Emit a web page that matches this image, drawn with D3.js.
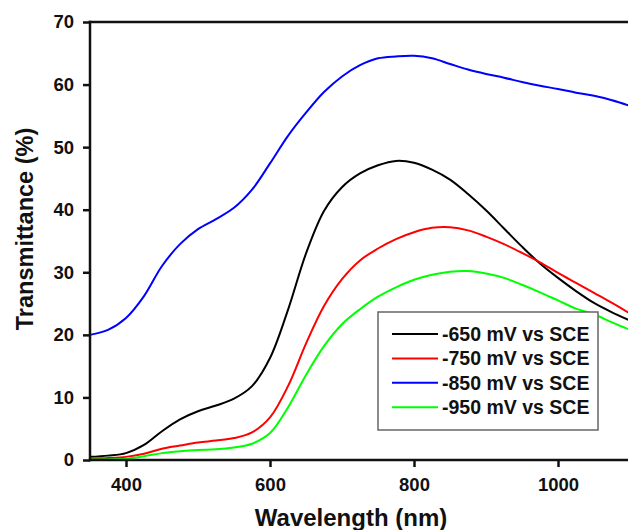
<!DOCTYPE html>
<html>
<head>
<meta charset="utf-8">
<script src="https://cdn.jsdelivr.net/npm/d3@7"></script>
<style>
  html, body { margin: 0; padding: 0; background: #fff; }
  svg { display: block; }
  text { font-family: "Liberation Sans", Arial, sans-serif; font-weight: bold; fill: #111; }
</style>
</head>
<body>
<svg id="chart" width="628" height="530"></svg>
<script>
// Wavelength grid (nm) shared by all spectra
const wavelengths = [350, 375, 400, 425, 450, 475, 500, 525, 550, 575, 600, 625, 650, 675, 700,
  725, 750, 775, 800, 825, 850, 875, 900, 925, 950, 975, 1000, 1025, 1050, 1075, 1100];

// Transmittance (%) for each deposition potential
const t650 = [0.5, 0.7, 1.1, 2.4, 4.6, 6.5, 7.8, 8.7, 9.8, 11.8, 16.3, 24.0, 33.0, 39.8, 43.6,
  45.8, 47.1, 47.8, 47.5, 46.4, 44.8, 42.5, 39.9, 37.0, 34.1, 31.4, 29.1, 27.0, 25.1, 23.6, 22.3];
const t750 = [0.2, 0.3, 0.5, 1.0, 1.8, 2.3, 2.8, 3.1, 3.5, 4.4, 6.8, 11.8, 18.6, 24.6, 28.9,
  31.9, 33.8, 35.3, 36.4, 37.1, 37.2, 36.7, 35.7, 34.5, 33.1, 31.6, 29.9, 28.3, 26.7, 25.1, 23.4];
const t850 = [20.0, 20.8, 22.7, 26.2, 31.0, 34.5, 36.9, 38.5, 40.3, 43.2, 47.4, 51.8, 55.5, 58.8, 61.3,
  63.1, 64.2, 64.5, 64.6, 64.2, 63.3, 62.4, 61.7, 61.1, 60.4, 59.8, 59.3, 58.7, 58.2, 57.5, 56.6];
const t950 = [0.1, 0.1, 0.2, 0.6, 1.1, 1.4, 1.6, 1.7, 2.0, 2.6, 4.3, 8.4, 13.6, 18.2, 21.7,
  24.1, 26.1, 27.6, 28.8, 29.6, 30.1, 30.2, 29.8, 29.1, 28.0, 26.8, 25.5, 24.2, 23.3, 22.0, 20.8];

const seriesNames = ["-650 mV vs SCE", "-750 mV vs SCE", "-850 mV vs SCE", "-950 mV vs SCE"];
const seriesColors = ["#000000", "#ff0000", "#0000ff", "#00ff00"];
const seriesValues = [t650, t750, t850, t950];

const xTicks = [400, 600, 800, 1000];
const yTicks = [0, 10, 20, 30, 40, 50, 60, 70];

const svg = d3.select("#chart");
const plotLeft = 90, plotRight = 630, plotTop = 22, plotBottom = 460;

const x = d3.scaleLinear().domain([350, 1100]).range([plotLeft, plotRight]);
const y = d3.scaleLinear().domain([0, 70]).range([plotBottom, plotTop]);

// Spectra
const line = d3.line()
  .x(d => x(d[0]))
  .y(d => y(d[1]))
  .curve(d3.curveCatmullRom.alpha(0.5));

seriesValues.forEach((vals, i) => {
  svg.append("path")
    .datum(wavelengths.map((w, k) => [w, vals[k]]))
    .attr("fill", "none")
    .attr("stroke", seriesColors[i])
    .attr("stroke-width", 2)
    .attr("d", line);
});

// Axes
const fontSize = 18.5;
const yAxis = d3.axisLeft(y).tickValues(yTicks).tickFormat(d3.format("d"))
  .tickSize(7).tickSizeOuter(0).tickPadding(9);
const xAxis = d3.axisBottom(x).tickValues(xTicks).tickFormat(d3.format("d"))
  .tickSize(7).tickSizeOuter(0).tickPadding(11);

const gy = svg.append("g").attr("transform", `translate(${plotLeft},0)`).call(yAxis);
const gx = svg.append("g").attr("transform", `translate(0,${plotBottom})`).call(xAxis);

[gy, gx].forEach(g => {
  g.select(".domain").remove();
  g.selectAll(".tick line").attr("stroke", "#111").attr("stroke-width", 2.5);
  g.selectAll(".tick text")
    .attr("font-size", fontSize)
    .attr("font-family", "'Liberation Sans', Arial, sans-serif")
    .attr("font-weight", "bold")
    .attr("fill", "#111");
});

// Frame lines: left, bottom, top
svg.append("line").attr("x1", plotLeft).attr("x2", plotLeft).attr("y1", plotTop - 1.25).attr("y2", plotBottom + 1.25)
  .attr("stroke", "#111").attr("stroke-width", 2.5);
svg.append("line").attr("x1", plotLeft - 1.25).attr("x2", plotRight).attr("y1", plotBottom).attr("y2", plotBottom)
  .attr("stroke", "#111").attr("stroke-width", 2.5);
svg.append("line").attr("x1", plotLeft - 1.25).attr("x2", plotRight).attr("y1", plotTop).attr("y2", plotTop)
  .attr("stroke", "#111").attr("stroke-width", 2.5);

// Axis titles
svg.append("text")
  .attr("x", 351).attr("y", 526)
  .attr("text-anchor", "middle")
  .attr("font-size", 24)
  .text("Wavelength (nm)");

svg.append("text")
  .attr("transform", `translate(33,229) rotate(-90)`)
  .attr("text-anchor", "middle")
  .attr("font-size", 23.5)
  .text("Transmittance (%)");

// Legend
const legend = svg.append("g").attr("transform", "translate(378,312)");
legend.append("rect")
  .attr("width", 220).attr("height", 118)
  .attr("fill", "#fff")
  .attr("stroke", "#666").attr("stroke-width", 1.5);

seriesNames.forEach((name, i) => {
  const row = legend.append("g").attr("transform", `translate(0,${22 + i * 24.4})`);
  row.append("line")
    .attr("x1", 14).attr("x2", 60)
    .attr("stroke", seriesColors[i]).attr("stroke-width", 2);
  row.append("text")
    .attr("x", 64).attr("y", 0).attr("dy", "0.36em")
    .attr("font-size", 19.5)
    .text(name);
});
</script>
</body>
</html>
